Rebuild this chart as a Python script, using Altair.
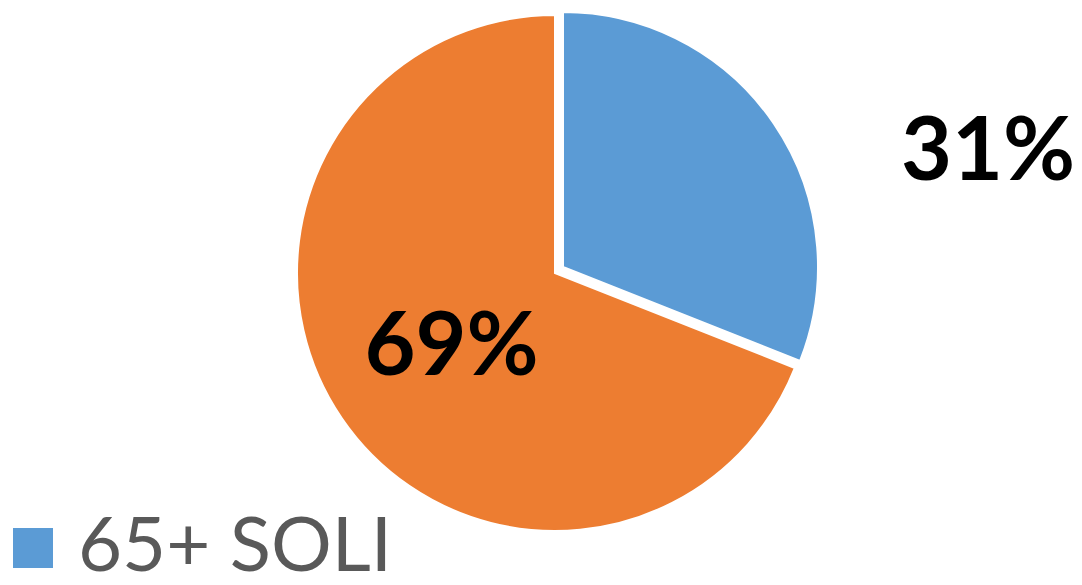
import math
import altair as alt
import pandas as pd

categories = ["65+ SOLI", "65+ NON SOLI"]
values = [31, 69]
labels = ["31%", "69%"]
colors = ["#5B9BD5", "#ED7D31"]
order = [0, 1]

df = pd.DataFrame({"cat": categories, "val": values, "label": labels, "order": order})

base = (
    alt.Chart(df)
    .transform_stack(stack="val", as_=["start", "end"], groupby=[], sort=[alt.SortField("order")])
    .transform_calculate(mid="(datum.start + datum.end) / 2")
)

theta_scale = alt.Scale(domain=[0, 100], range=[0, 2 * math.pi])
color = alt.Color(
    "cat:N",
    scale=alt.Scale(domain=categories, range=colors),
    legend=alt.Legend(
        orient="none", legendX=-13, legendY=502, values=[categories[0]],
        title=None, symbolType="square", symbolSize=1600, symbolStrokeWidth=0,
        symbolOpacity=1, labelFontSize=76, labelFont="Lato", labelColor="#595959",
        labelOffset=7, labelLimit=0, padding=0,
    ),
)

CX, CY, R = 547, 265, 258
BX, BY = 555, 259

orange = base.transform_filter(alt.datum.order == 1).mark_arc(
    outerRadius=R, stroke="white", strokeWidth=2
).encode(
    theta=alt.Theta("start:Q", scale=theta_scale), theta2="end:Q",
    color=color, x=alt.value(CX), y=alt.value(CY),
)
blue = base.transform_filter(alt.datum.order == 0).mark_arc(
    outerRadius=R - 3, stroke="white", strokeWidth=2
).encode(
    theta=alt.Theta("start:Q", scale=theta_scale), theta2="end:Q",
    color=color, x=alt.value(BX), y=alt.value(BY),
)
lab_orange = base.transform_filter(alt.datum.order == 1).mark_text(
    font="Lato", fontWeight="bold", fontSize=88, color="black", baseline="middle", dy=6
).encode(
    theta=alt.Theta("mid:Q", scale=theta_scale), radius=alt.value(125),
    text="label:N", x=alt.value(CX), y=alt.value(CY),
)
lab_blue = base.transform_filter(alt.datum.order == 0).mark_text(
    font="Lato", fontWeight="bold", fontSize=88, color="black", baseline="middle", dx=177, dy=56
).encode(
    theta=alt.Theta("mid:Q", scale=theta_scale), radius=alt.value(300),
    text="label:N", x=alt.value(BX), y=alt.value(BY),
)

chart = alt.layer(orange, blue, lab_orange, lab_blue).properties(
    width=1066, height=569, padding=0, autosize=alt.AutoSizeParams(type="none")
).configure_view(stroke=None)

chart.save("out.html", embed_options={"renderer": "svg", "actions": False})
